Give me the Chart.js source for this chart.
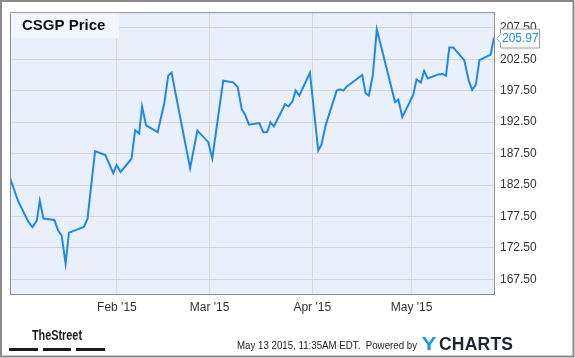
<!DOCTYPE html>
<html>
<head>
<meta charset="utf-8">
<script src="https://cdn.jsdelivr.net/npm/chart.js@4/dist/chart.umd.min.js"></script>
<style>
  html, body { margin: 0; padding: 0; background: #fff; }
  canvas { display: block; }
</style>
</head>
<body>
<canvas id="priceChart" width="575" height="358"></canvas>
<script>
// days counted from Jan 1 2015
const days = [
  -1.3, 1.1, 4.3, 5.5, 6.8, 7.7, 8.8, 12.1, 13.2, 14.3,
  15.5, 16.5, 21.0, 22.1, 24.4, 27.5, 29.9, 30.9, 32.1, 35.4,
  36.5, 37.7, 38.6, 39.8, 43.3, 45.3, 46.5, 47.5, 53.1, 55.3,
  58.6, 59.8, 63.1, 66.1, 67.5, 68.7, 69.7, 70.9, 74.0, 75.2,
  76.4, 77.4, 78.4, 81.8, 82.8, 84.0, 85.0, 86.1, 89.3, 91.8,
  92.8, 94.1, 97.4, 98.4, 99.4, 100.4, 105.1, 106.1, 107.1, 108.3,
  109.5, 115.0, 116.0, 117.2, 120.5, 121.5, 122.8, 123.8, 124.9, 128.1,
  129.4, 130.4, 131.4, 132.6, 135.9, 137.3, 138.3, 139.4, 140.5, 143.9,
  144.9
];
const prices = [
  183.63, 180.00, 176.60, 175.80, 176.84, 180.00, 177.16, 176.95, 175.31, 174.44,
  170.00, 174.92, 175.82, 177.11, 187.90, 187.26, 184.37, 185.69, 184.58, 186.68,
  191.21, 190.69, 195.00, 192.00, 190.90, 195.52, 199.90, 200.37, 185.16, 191.16,
  189.32, 186.74, 199.10, 198.84, 198.05, 194.58, 193.69, 192.11, 192.36, 190.90,
  190.94, 192.47, 191.84, 195.36, 195.00, 195.79, 197.53, 196.74, 200.37, 188.00,
  188.95, 192.11, 197.53, 197.73, 197.53, 198.16, 200.00, 197.10, 196.74, 200.00,
  207.27, 195.71, 196.10, 193.31, 196.85, 199.31, 198.79, 200.64, 199.47, 200.10,
  200.17, 199.90, 204.37, 204.37, 202.37, 199.06, 197.64, 198.43, 202.37, 203.26,
  205.97
];
const yTicks = [167.5, 172.5, 177.5, 182.5, 187.5, 192.5, 197.5, 202.5, 207.5];
const monthTicks = [31, 59, 90, 120];
const monthLabels = ["Feb '15", "Mar '15", "Apr '15", "May '15"];
const seriesName = 'CSGP Price';
const stampText = 'May 13 2015, 11:35AM EDT.  Powered by';

const lineBlue = '#1e8ae8';
const labelFont = 'Liberation Sans, Arial, sans-serif';

// نص مضغوط أفقياً ليأخذ عرضاً محدداً
function fitText(ctx, text, x, y, width) {
  const w = ctx.measureText(text).width;
  ctx.save();
  ctx.translate(x, y);
  ctx.scale(width / w, 1);
  ctx.fillText(text, 0, 0);
  ctx.restore();
}

// === خلفية منطقة الرسم والإطار والنصوص ===
const framePlugin = {
  id: 'frame',
  beforeDraw(chart) {
    const { ctx, chartArea: a } = chart;
    ctx.save();
    ctx.fillStyle = '#fff';
    ctx.fillRect(0, 0, chart.width, chart.height);
    ctx.fillStyle = '#eaf0fb';
    ctx.fillRect(a.left, a.top, a.right - a.left, a.bottom - a.top);
    ctx.restore();
  },
  afterDraw(chart) {
    const { ctx, chartArea: a } = chart;
    ctx.save();

    // plot border
    ctx.strokeStyle = '#8c8c8c';
    ctx.lineWidth = 1;
    ctx.strokeRect(a.left + 0.5, a.top + 0.5, a.right - a.left - 1, a.bottom - a.top - 1);

    // outer border
    ctx.strokeStyle = '#8a8a8a';
    ctx.lineWidth = 2;
    ctx.strokeRect(1, 1, 572.5, 355.5);

    // title box
    ctx.fillStyle = '#f3f7fd';
    ctx.fillRect(a.left + 1, a.top + 1, 108, 25);
    ctx.fillStyle = '#111';
    ctx.font = 'bold 15px ' + labelFont;
    ctx.textBaseline = 'alphabetic';
    ctx.textAlign = 'left';
    ctx.fillText(seriesName, 22, 29.5);

    // last value callout
    const ys = chart.scales.y;
    const py = Math.round(ys.getPixelForValue(prices[prices.length - 1])) + 0.5;
    const bx = 500.5, bw = 39, bh = 19, by = py - 9.5;
    ctx.beginPath();
    ctx.moveTo(bx, by);
    ctx.lineTo(bx + bw, by);
    ctx.lineTo(bx + bw, by + bh);
    ctx.lineTo(bx, by + bh);
    ctx.lineTo(bx, py + 4);
    ctx.lineTo(bx - 4, py);
    ctx.lineTo(bx, py - 4);
    ctx.closePath();
    ctx.fillStyle = '#fff';
    ctx.fill();
    ctx.strokeStyle = '#9a9a9a';
    ctx.lineWidth = 1;
    ctx.stroke();
    ctx.fillStyle = lineBlue;
    ctx.font = '12px ' + labelFont;
    ctx.textBaseline = 'middle';
    ctx.fillText(prices[prices.length - 1].toFixed(2), 502, py + 0.5);

    // TheStreet logo
    ctx.fillStyle = '#1a1a1a';
    ctx.font = 'bold 14px ' + labelFont;
    ctx.textBaseline = 'alphabetic';
    fitText(ctx, 'TheStreet', 32, 340, 50);
    ctx.fillRect(9, 348, 29, 3);
    ctx.fillRect(43, 348, 28, 3);
    ctx.fillRect(76, 348, 29, 3);

    // time stamp
    ctx.fillStyle = '#222';
    ctx.font = '11.5px ' + labelFont;
    fitText(ctx, stampText, 237, 348.5, 180);

    // YCHARTS logo
    ctx.font = 'bold 17.5px ' + labelFont;
    ctx.fillStyle = '#1d9ae0';
    fitText(ctx, 'Y', 421.5, 350, 15);
    ctx.fillStyle = '#1c2633';
    const letters = 'CHARTS'.split('');
    const total = letters.reduce((s, ch) => s + ctx.measureText(ch).width, 0);
    const gap = (74 - total) / (letters.length - 1);
    let lx = 439;
    letters.forEach(ch => {
      ctx.fillText(ch, lx, 350);
      lx += ctx.measureText(ch).width + gap;
    });

    ctx.restore();
  }
};

document.addEventListener('DOMContentLoaded', () => {
  const ctx = document.getElementById('priceChart').getContext('2d');

  new Chart(ctx, {
    type: 'line',
    data: {
      datasets: [{
        label: seriesName,
        data: days.map((d, i) => ({ x: d, y: prices[i] })),
        borderColor: lineBlue,
        borderWidth: 2,
        pointRadius: 0,
        tension: 0,
        fill: false
      }]
    },
    options: {
      responsive: false,
      animation: false,
      layout: { padding: { left: 10, top: 10, right: 0, bottom: 0 } },
      plugins: {
        legend: { display: false },
        tooltip: { enabled: false }
      },
      scales: {
        x: {
          type: 'linear',
          min: -1.3,
          max: 145.2,
          afterBuildTicks: s => { s.ticks = monthTicks.map(v => ({ value: v })); },
          afterFit: s => { s.height = 63; },
          grid: { color: '#d6d6d6', drawTicks: false },
          border: { display: false },
          ticks: {
            padding: 5,
            color: '#333',
            maxRotation: 0,
            autoSkip: false,
            font: { family: labelFont, size: 12 },
            callback: (v, i) => monthLabels[i]
          }
        },
        y: {
          position: 'right',
          min: 165,
          max: 210,
          afterBuildTicks: s => { s.ticks = yTicks.map(v => ({ value: v })); },
          afterFit: s => { s.width = 80; },
          grid: { color: '#d6d6d6', drawTicks: false },
          border: { display: false },
          ticks: {
            padding: 5,
            color: '#333',
            font: { family: labelFont, size: 12 },
            callback: v => Number(v).toFixed(2)
          }
        }
      }
    },
    plugins: [framePlugin]
  });
});
</script>
</body>
</html>
